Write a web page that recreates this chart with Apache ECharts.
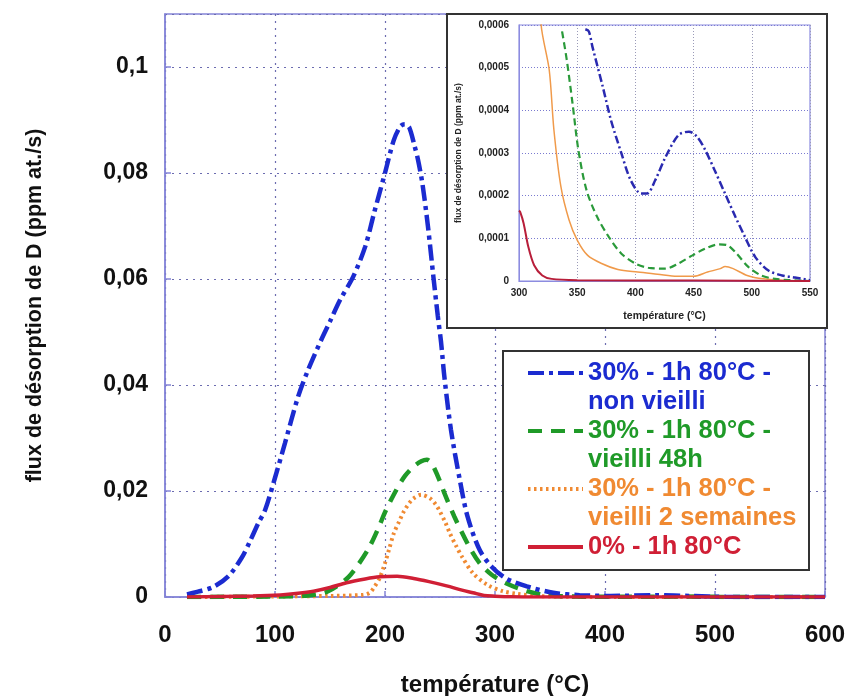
<!DOCTYPE html>
<html>
<head>
<meta charset="utf-8">
<script src="https://cdn.jsdelivr.net/npm/echarts@6/dist/echarts.min.js"></script>
<style>html,body{margin:0;padding:0;background:#fff}#c{width:849px;height:696px}</style>
</head>
<body>
<div id="c"></div>
<script>
// ---------- data (main chart) ----------
const seriesNames = [
  '30% - 1h 80°C -\nnon vieilli',
  '30% - 1h 80°C -\nvieilli 48h',
  '30% - 1h 80°C -\nvieilli 2 semaines',
  '0% - 1h 80°C'
];
const xTicks = [0, 100, 200, 300, 400, 500, 600];
const yTicks = [0, 0.02, 0.04, 0.06, 0.08, 0.1];

const blueT = [20,30,44,58,70,77,85,91,100,109,121,130,142,150,159,171,182,190,200,208,214,218,222,227,230,234,239,244,248,251,254,260,268,275,286,297,310,329,353,377,405,446,480,510,550,600];
const blueV = [0.0005,0.001,0.0019,0.004,0.0075,0.0104,0.014,0.0164,0.0225,0.029,0.0378,0.0428,0.0485,0.052,0.056,0.0604,0.0661,0.0724,0.08,0.0862,0.0888,0.0892,0.0886,0.085,0.0825,0.078,0.07,0.0604,0.053,0.048,0.0415,0.0315,0.0221,0.0152,0.0089,0.0057,0.0035,0.002,0.0008,0.00035,0.0002,0.00035,0.00018,0.00003,0,0];

const greenT = [20,100,130,145,156,167,176,186,195,200,210,218,226,233,238,242,245,250,254,263,275,286,297,310,329,345,360,400,430,472,500,530,600];
const greenV = [0,0.0001,0.0003,0.0008,0.002,0.0038,0.0062,0.0095,0.0135,0.016,0.0201,0.0228,0.0246,0.0256,0.0259,0.0253,0.0242,0.0218,0.0196,0.0152,0.0101,0.0064,0.0042,0.0026,0.0011,0.0004,0.00015,0.00004,0.00003,0.000086,0.00003,0,0];

const orangeT = [20,100,150,180,186,190,195,200,204,208,213,217,222,226,233,241,246,250,255,259,265,270,280,293,307,320,340,380,450,475,500,600];
const orangeV = [0,0.0001,0.0002,0.0004,0.0008,0.0018,0.0035,0.0064,0.0092,0.012,0.0143,0.0161,0.0177,0.0186,0.0193,0.0186,0.0175,0.0161,0.014,0.012,0.0095,0.0076,0.0045,0.0023,0.0011,0.0006,0.00018,0.00003,0.00001,0.00003,0.00001,0];

const redT = [20,80,105,121,135,150,165,182,195,211,226,240,256,270,280,290,300,315,330,600];
const redV = [0,0.0002,0.0004,0.0007,0.0011,0.0018,0.0027,0.0034,0.0038,0.0039,0.0035,0.0029,0.0021,0.0013,0.0008,0.0003,0.00016,0.00003,0,0];

// ---------- data (inset) ----------
const insetXTicks = [300, 350, 400, 450, 500, 550];
const insetYTicks = [0, 0.0001, 0.0002, 0.0003, 0.0004, 0.0005, 0.0006];

const iBlueT = [357,360,363,372,379,388,396,405,410,417,426,437,446,453,460,468,477,486,494,503,514,526,537,550];
const iBlueV = [0.00059,0.000585,0.00055,0.000455,0.000377,0.000299,0.000236,0.000205,0.000205,0.000236,0.000291,0.000342,0.00035,0.000338,0.000307,0.00026,0.000205,0.00015,0.000104,0.000056,0.000025,0.000013,0.000008,0.000002];

const iGreenT = [337,341,346,351,358,367,377,388,400,411,426,437,449,460,472,479,487,497,508,520,532,550];
const iGreenV = [0.000585,0.000519,0.000416,0.000307,0.000213,0.000151,0.000104,0.000064,0.000041,0.000031,0.000029,0.000041,0.00006,0.000076,0.000086,0.000084,0.000064,0.000033,0.000013,0.000005,0.000002,0];

const iOrangeT = [300,310,319,326,330,336,343,350,359,371,385,402,419,436,450,462,473,477,484,496,510,530,550];
const iOrangeV = [0.0016,0.001,0.0006,0.000494,0.000354,0.000221,0.000143,0.000096,0.00006,0.000041,0.000027,0.000021,0.000016,0.000011,0.000011,0.000021,0.000029,0.000034,0.000029,0.000013,0.000005,0.000001,0];

const iRedT = [300,301,304,308,313,320,328,350,450,550];
const iRedV = [0.000165,0.000162,0.000135,0.00008,0.000037,0.000013,0.000005,0.000002,0.000001,0];

// ---------- helpers ----------
const zip = (t, v) => t.map((x, i) => [x, v[i]]);
const fmt = v => v === 0 ? '0' : String(+v.toFixed(6)).replace('.', ',');
const FONT = "'Liberation Sans', Arial, sans-serif";

const COL = { blue: '#1b2bd0', green: '#1f9a28', orange: '#f08a32', red: '#d01f35' };
const ICOL = { blue: '#2a2ab0', green: '#2a9a3a', orange: '#f09a4a', red: '#b81e3a' };
const axisCol = '#8585d8';

const chart = echarts.init(document.getElementById('c'), null, { renderer: 'canvas' });

const mainAxisCommon = {
  axisLine: { show: true, lineStyle: { color: axisCol, width: 1.5 } },
  axisTick: { show: true, inside: true, length: 6, lineStyle: { color: axisCol, width: 1.5 } },
  splitLine: { show: true, lineStyle: { color: '#6c6cb0', width: 1.2, type: [2, 5] } }
};

const option = {
  animation: false,
  backgroundColor: '#fff',
  grid: [
    { left: 165, right: 24, top: 14, bottom: 99, outerBoundsMode: 'none', containLabel: false, show: true, borderColor: axisCol, borderWidth: 1.5, backgroundColor: 'transparent' },
    { left: 519, right: 39, top: 25, bottom: 415, outerBoundsMode: 'none', containLabel: false, show: true, borderColor: '#8c8ce0', borderWidth: 1.2, backgroundColor: 'transparent', z: 6 }
  ],
  xAxis: [
    Object.assign({}, mainAxisCommon, {
      type: 'value', gridIndex: 0, min: xTicks[0], max: xTicks[xTicks.length - 1], interval: 100,
      name: 'température (°C)', nameLocation: 'middle', nameGap: 76,
      nameTextStyle: { fontFamily: FONT, fontWeight: 'bold', fontSize: 24, color: '#111' },
      axisLabel: { margin: 26, fontFamily: FONT, fontWeight: 'bold', fontSize: 24, color: '#111' }
    }),
    {
      type: 'value', gridIndex: 1, min: insetXTicks[0], max: insetXTicks[insetXTicks.length - 1], interval: 50, z: 6,
      name: 'température (°C)', nameLocation: 'middle', nameGap: 30,
      nameTextStyle: { fontFamily: FONT, fontWeight: 'bold', fontSize: 10.5, color: '#222' },
      axisLine: { show: true, lineStyle: { color: '#8c8ce0' } },
      axisTick: { show: false },
      axisLabel: { margin: 7, fontFamily: FONT, fontWeight: 'bold', fontSize: 10, color: '#222' },
      splitLine: { show: true, lineStyle: { color: '#9a9ab8', width: 1, type: [1, 2] } }
    }
  ],
  yAxis: [
    Object.assign({}, mainAxisCommon, {
      type: 'value', gridIndex: 0, min: yTicks[0], max: 0.11, interval: 0.02,
      name: 'flux de désorption de D (ppm at./s)', nameLocation: 'middle', nameGap: 119,
      nameTextStyle: { fontFamily: FONT, fontWeight: 'bold', fontSize: 21.5, color: '#111' },
      axisLabel: { margin: 17, fontFamily: FONT, fontWeight: 'bold', fontSize: 23, color: '#111', showMaxLabel: false,
        formatter: v => yTicks.some(t => Math.abs(t - v) < 1e-9) ? fmt(v) : '' }
    }),
    {
      type: 'value', gridIndex: 1, min: insetYTicks[0], max: insetYTicks[insetYTicks.length - 1], interval: 0.0001, z: 6,
      name: 'flux de désorption de D (ppm at./s)', nameLocation: 'middle', nameGap: 56,
      nameTextStyle: { fontFamily: FONT, fontWeight: 'bold', fontSize: 8.5, color: '#222' },
      axisLine: { show: true, lineStyle: { color: '#8c8ce0' } },
      axisTick: { show: false },
      axisLabel: { margin: 10, fontFamily: FONT, fontWeight: 'bold', fontSize: 10, color: '#222', formatter: fmt },
      splitLine: { show: true, lineStyle: { color: '#7a7ad0', width: 1, type: [1, 2] } }
    }
  ],
  legend: {
    orient: 'vertical', left: 526, top: 329.5, padding: 0, itemGap: -29,
    itemWidth: 55, itemHeight: 14, z: 8,
    itemStyle: { opacity: 0, borderWidth: 0 },
    lineStyle: { width: 4 },
    textStyle: { fontFamily: FONT, fontWeight: 'bold', fontSize: 25.5, lineHeight: 29 },
    formatter: name => name.indexOf('\n') >= 0 ? '\n' + name : '\n' + name + '\n',
    data: [
      { name: seriesNames[0], textStyle: { color: COL.blue } },
      { name: seriesNames[1], textStyle: { color: COL.green } },
      { name: seriesNames[2], textStyle: { color: COL.orange } },
      { name: seriesNames[3], textStyle: { color: COL.red } }
    ]
  },
  graphic: [
    { type: 'rect', z: 5, shape: { x: 447, y: 14, width: 380, height: 314 }, style: { fill: '#fff', stroke: '#333', lineWidth: 2 } },
    { type: 'rect', z: 5, shape: { x: 503, y: 351, width: 306, height: 219 }, style: { fill: '#fff', stroke: '#333', lineWidth: 2 } }
  ],
  series: [
    { name: seriesNames[2], type: 'line', xAxisIndex: 0, yAxisIndex: 0, data: zip(orangeT, orangeV), symbol: 'none', smooth: 0.3, z: 2,
      lineStyle: { color: COL.orange, width: 4, type: [2.5, 3.5] }, itemStyle: { color: COL.orange } },
    { name: seriesNames[1], type: 'line', xAxisIndex: 0, yAxisIndex: 0, data: zip(greenT, greenV), symbol: 'none', smooth: 0.3, z: 2,
      lineStyle: { color: COL.green, width: 4.5, type: [14, 9] }, itemStyle: { color: COL.green } },
    { name: seriesNames[0], type: 'line', xAxisIndex: 0, yAxisIndex: 0, data: zip(blueT, blueV), symbol: 'none', smooth: 0.3, z: 2,
      lineStyle: { color: COL.blue, width: 4.5, type: [16, 5, 4, 5] }, itemStyle: { color: COL.blue } },
    { name: seriesNames[3], type: 'line', xAxisIndex: 0, yAxisIndex: 0, data: zip(redT, redV), symbol: 'none', smooth: 0.3, z: 3,
      lineStyle: { color: COL.red, width: 3.5 }, itemStyle: { color: COL.red } },

    { name: 'inset-orange', type: 'line', xAxisIndex: 1, yAxisIndex: 1, data: zip(iOrangeT, iOrangeV), symbol: 'none', smooth: 0.3, z: 7,
      lineStyle: { color: ICOL.orange, width: 1.5 } },
    { name: 'inset-green', type: 'line', xAxisIndex: 1, yAxisIndex: 1, data: zip(iGreenT, iGreenV), symbol: 'none', smooth: 0.3, z: 7,
      lineStyle: { color: ICOL.green, width: 2.2, type: [7, 4] } },
    { name: 'inset-blue', type: 'line', xAxisIndex: 1, yAxisIndex: 1, data: zip(iBlueT, iBlueV), symbol: 'none', smooth: 0.3, z: 7,
      lineStyle: { color: ICOL.blue, width: 2.5, type: [8, 3, 2, 3] } },
    { name: 'inset-red', type: 'line', xAxisIndex: 1, yAxisIndex: 1, data: zip(iRedT, iRedV), symbol: 'none', smooth: 0.3, z: 8,
      lineStyle: { color: ICOL.red, width: 2 } }
  ]
};
chart.setOption(option);
</script>
</body>
</html>
